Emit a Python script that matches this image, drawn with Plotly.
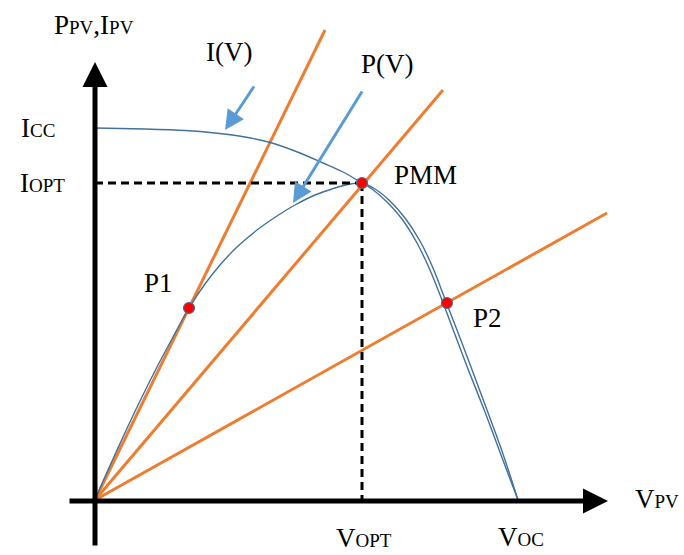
import plotly.graph_objects as go

# Data coordinates: V (horizontal), I/P (vertical), arbitrary units
# I(V) curve
i_v = [0, 50, 90, 120, 150, 177, 205, 228, 248, 267, 277, 292, 307, 322, 335, 347, 359, 373, 390, 406, 423]
i_i = [372, 371, 369.5, 367, 363, 357, 347, 337, 328, 317, 311, 298, 281, 257, 230, 200, 168, 131, 88, 45, 0]
# P(V) curve
p_v = [0, 9, 18, 28, 45, 62, 78, 94, 110, 125, 142, 162, 182, 200, 220, 240, 255, 267,
       280, 295, 310, 325, 338, 350, 362, 376, 392, 408, 423]
p_p = [0, 21, 41, 63, 99, 133, 163, 192, 216, 235, 253, 270, 284, 295, 305, 312, 316, 317,
       311, 299, 282, 259, 232, 201, 170, 133, 90, 46, 0]

# Load lines from origin (end points)
load_end_v = [230, 348, 512]
load_end_p = [470, 410, 287]

# Operating points
pt_names = ["P1", "PMM", "P2"]
pt_v = [94, 267, 352]
pt_p = [192, 317, 197]

V_OPT, I_OPT = 267, 317

fig = go.Figure()

ORANGE = "#ED7D31"
CURVE = "#41719C"
ARROW = "#5B9BD5"

for ev, ep in zip(load_end_v, load_end_p):
    fig.add_trace(go.Scatter(x=[0, ev], y=[0, ep], mode="lines",
                             line=dict(color=ORANGE, width=3), hoverinfo="skip"))

fig.add_trace(go.Scatter(x=i_v, y=i_i, mode="lines",
                         line=dict(color=CURVE, width=1.4, shape="spline", smoothing=0.8), hoverinfo="skip"))
fig.add_trace(go.Scatter(x=p_v, y=p_p, mode="lines",
                         line=dict(color=CURVE, width=1.4, shape="spline", smoothing=0.8), hoverinfo="skip"))

# dashed guides
fig.add_trace(go.Scatter(x=[0, V_OPT], y=[I_OPT, I_OPT], mode="lines",
                         line=dict(color="black", width=3, dash="8px,5px"), hoverinfo="skip"))
fig.add_trace(go.Scatter(x=[V_OPT, V_OPT], y=[I_OPT, 0], mode="lines",
                         line=dict(color="black", width=3, dash="8px,5px"), hoverinfo="skip"))

fig.add_trace(go.Scatter(x=pt_v, y=pt_p, mode="markers",
                         marker=dict(color="red", size=11, line=dict(color=CURVE, width=1.2)), hoverinfo="skip"))

# axes with arrows
fig.add_annotation(x=513, y=-1, ax=-27, ay=-1, xref="x", yref="y", axref="x", ayref="y",
                   showarrow=True, arrowhead=2, arrowsize=1, arrowwidth=5, arrowcolor="black", text="")
fig.add_annotation(x=0, y=438, ax=0, ay=-47, xref="x", yref="y", axref="x", ayref="y",
                   showarrow=True, arrowhead=2, arrowsize=1, arrowwidth=5, arrowcolor="black", text="")

# blue pointer arrows
fig.add_annotation(x=130, y=370, ax=160, ay=415, xref="x", yref="y", axref="x", ayref="y",
                   showarrow=True, arrowhead=2, arrowsize=1.3, arrowwidth=3, arrowcolor=ARROW, text="")
fig.add_annotation(x=198, y=297, ax=268, ay=410, xref="x", yref="y", axref="x", ayref="y",
                   showarrow=True, arrowhead=2, arrowsize=1.3, arrowwidth=3, arrowcolor=ARROW, text="")

FONT = dict(family="Liberation Serif, Times New Roman, serif", size=27, color="black")

def s(t):
    return '<span style="font-size:19px">' + t + '</span>'

labels = [
    ("P" + s("PV") + ",I" + s("PV"), -1, 475),
    ("I" + s("CC"), -57, 372),
    ("I" + s("OPT"), -53, 317),
    ("I(V)", 134, 448),
    ("P(V)", 292, 436),
    ("PMM", 330, 325),
    ("P1", 63, 217),
    ("P2", 392, 182),
    ("V" + s("OPT"), 269, -38),
    ("V" + s("OC"), 426, -37),
    ("V" + s("PV"), 562, 1),
]
for t, x, y in labels:
    fig.add_annotation(x=x, y=y, xref="x", yref="y", text=t, showarrow=False, font=FONT)

fig.update_layout(
    width=684, height=555,
    margin=dict(l=0, r=0, t=0, b=0),
    paper_bgcolor="white", plot_bgcolor="white",
    showlegend=False,
    xaxis=dict(range=[-95, 589], visible=False, fixedrange=True),
    yaxis=dict(range=[-55, 500], visible=False, fixedrange=True),
)

fig.write_html("out.html", config={"displayModeBar": False},
               post_script="document.body.style.margin='0';document.body.style.overflow='hidden';")
